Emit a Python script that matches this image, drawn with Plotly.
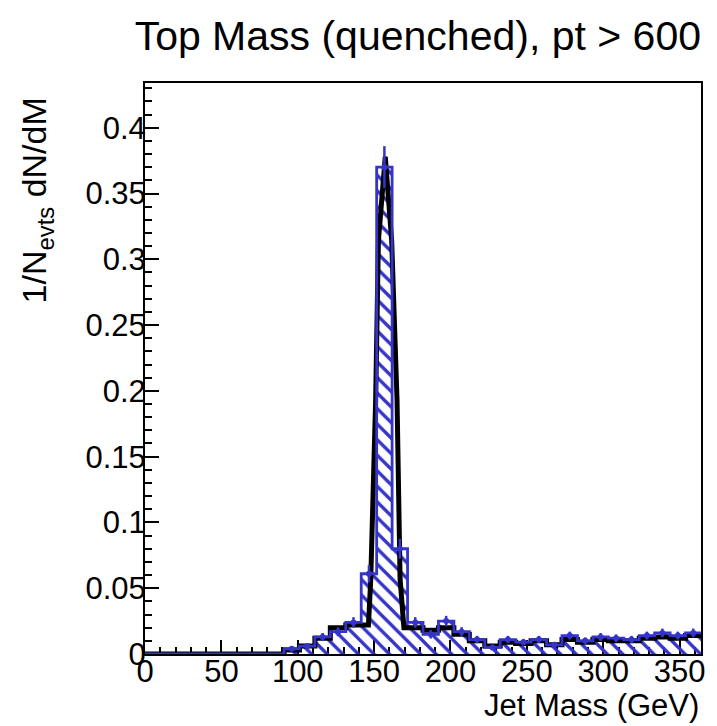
import numpy as np
import plotly.graph_objects as go

# ---------------- data ----------------
X_MAX = 364.0          # upper edge of the mass axis (GeV)
N_BINS = 36            # histogram bins over [0, X_MAX]

# blue (hatched) histogram: 1/N dN/dM per bin
blue_vals = [0, 0, 0, 0, 0, 0, 0, 0, 0,
             0.004, 0.006, 0.013, 0.017, 0.024, 0.061, 0.370, 0.080, 0.024,
             0.015, 0.025, 0.017, 0.011, 0.005, 0.011, 0.009, 0.011, 0.007,
             0.014, 0.010, 0.013, 0.012, 0.011, 0.014, 0.016, 0.014, 0.016]
blue_errs = [0, 0, 0, 0, 0, 0, 0, 0, 0,
             0.0017, 0.002, 0.003, 0.0034, 0.004, 0.0065, 0.016, 0.0075, 0.004,
             0.0032, 0.004, 0.0034, 0.0028, 0.002, 0.0028, 0.0025, 0.0028, 0.0022,
             0.003, 0.0026, 0.003, 0.0029, 0.0028, 0.003, 0.0033, 0.003, 0.0033]

# black histogram (tails, per bin; None where the peak curve is used)
black_vals = [0, 0, 0, 0, 0, 0, 0, 0, 0,
              0.003, 0.006, 0.012, 0.020, 0.022, None, None, None, 0.020,
              0.018, 0.020, 0.015, 0.010, 0.006, 0.009, 0.008, 0.010, 0.007,
              0.011, 0.009, 0.011, 0.010, 0.010, 0.012, 0.013, 0.012, 0.014]
# black peak shape (mass GeV, value)
black_peak_mass = [146.3, 147.8, 151.0, 152.8, 157.3, 161.5, 165.0, 167.0, 169.5]
black_peak_val = [0.022, 0.057, 0.193, 0.314, 0.378, 0.314, 0.193, 0.057, 0.020]

x_ticks = [0, 50, 100, 150, 200, 250, 300, 350]

# ---------------- styling ----------------
BLUE = "#3434c8"
FONT = "Liberation Sans, Arial, Helvetica, sans-serif"

edges = np.linspace(0, X_MAX, N_BINS + 1)
centers = 0.5 * (edges[:-1] + edges[1:])
bw = edges[1] - edges[0]

# black curve points
bx, by = [], []
for i in range(N_BINS):
    if i == 14:
        bx += black_peak_mass
        by += black_peak_val
    if black_vals[i] is None:
        continue
    bx += [edges[i], edges[i + 1]]
    by += [black_vals[i], black_vals[i]]

# blue outline (step)
sx = list(edges)
sy = list(blue_vals) + [blue_vals[-1]]

mask = [v > 0 for v in blue_vals]
ex = [c for c, m in zip(centers, mask) if m]
ey = [v for v, m in zip(blue_vals, mask) if m]
ee = [e for e, m in zip(blue_errs, mask) if m]

fig = go.Figure()
fig.add_trace(go.Scatter(x=bx, y=by, mode="lines",
                         line=dict(color="black", width=5),
                         hoverinfo="skip", showlegend=False))
fig.add_trace(go.Bar(x=centers, y=blue_vals, width=bw,
                     marker=dict(color="rgba(0,0,0,0)",
                                 line=dict(width=0),
                                 pattern=dict(shape="\\", fgcolor=BLUE,
                                              bgcolor="rgba(0,0,0,0)",
                                              size=11, solidity=0.3,
                                              fillmode="replace")),
                     showlegend=False, hoverinfo="skip"))
fig.add_trace(go.Scatter(x=sx, y=sy, mode="lines", line_shape="hv",
                         line=dict(color=BLUE, width=2.8),
                         cliponaxis=False, showlegend=False, hoverinfo="skip"))
fig.add_trace(go.Scatter(x=ex, y=ey, mode="markers", marker=dict(size=0, color=BLUE),
                         error_y=dict(type="data", array=ee, color=BLUE,
                                      thickness=2.5, width=0),
                         cliponaxis=False, showlegend=False, hoverinfo="skip"))

# page body has an 8px margin: figure is placed at (8, 8) in the window
OFF = 8
W, H = 717 - OFF, 726 - OFF
L, R, T, B = 145 - OFF, 14, 83 - OFF, 726 - 654
plot_w = W - L - R
plot_h = H - T - B

fig.update_layout(
    width=W, height=H,
    margin=dict(l=L, r=R, t=T, b=B),
    paper_bgcolor="white", plot_bgcolor="white",
    bargap=0, barmode="overlay",
    font=dict(family=FONT, color="black"),
    title=dict(text="Top Mass (quenched), pt &gt; 600",
               font=dict(size=41, family=FONT, color="black"),
               xref="paper", x=1.0, xanchor="right",
               yref="container", y=1 - (36 - OFF) / H, yanchor="middle"),
    xaxis=dict(range=[0, X_MAX], showgrid=False, zeroline=False,
               showline=True, mirror=True, linecolor="black", linewidth=2,
               ticks="inside", ticklen=14, tickwidth=1.5, tickcolor="black",
               tickvals=x_ticks, ticktext=[str(v) for v in x_ticks],
               minor=dict(ticks="inside", ticklen=7, tickwidth=1.5,
                          tickcolor="black", dtick=10, tick0=0, showgrid=False),
               tickfont=dict(size=31, family=FONT, color="black"),
               ticklabelstandoff=-11,
               layer="below traces"),
    yaxis=dict(range=[0, 0.434], showgrid=False, zeroline=False,
               showline=True, mirror=True, linecolor="black", linewidth=2,
               ticks="inside", ticklen=14, tickwidth=1.5, tickcolor="black",
               dtick=0.05, tick0=0,
               minor=dict(ticks="inside", ticklen=7, tickwidth=1.5,
                          tickcolor="black", dtick=0.01, tick0=0, showgrid=False),
               tickfont=dict(size=31, family=FONT, color="black"),
               ticklabelstandoff=-9,
               layer="below traces"),
)

fig.add_annotation(text="Jet Mass (GeV)", showarrow=False,
                   xref="paper", x=1.0, xanchor="right",
                   yref="paper", y=-(705 - 654) / plot_h, yanchor="middle",
                   font=dict(size=31, family=FONT, color="black"))
fig.add_annotation(text="1/N<sub>evts</sub> dN/dM", showarrow=False, textangle=-90,
                   xref="paper", x=(36 - 145) / plot_w, xanchor="center",
                   yref="paper", y=(654 - 200) / plot_h, yanchor="middle",
                   font=dict(size=34, family=FONT, color="black"))

fig.write_html("out.html")
